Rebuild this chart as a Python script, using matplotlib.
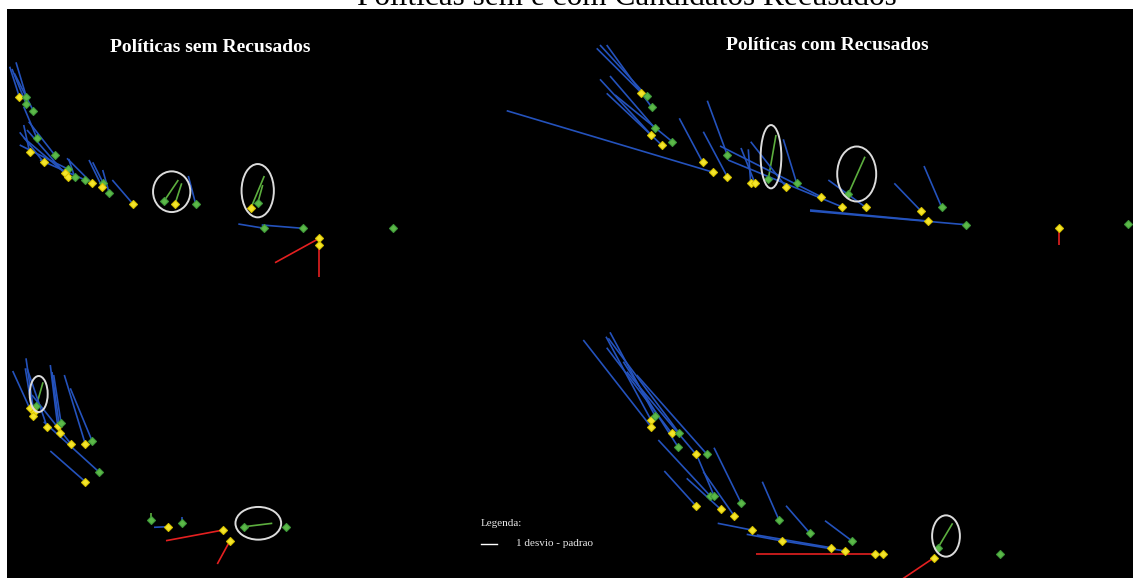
import numpy as np
import matplotlib.pyplot as plt
from matplotlib.patches import Ellipse, Rectangle

nan = np.nan

# each policy: point (x, y), group (Y = yellow, G = green),
# end of its 1-std-dev segment (dx, dy) and the segment colour (b/g/r, "" = none)

# Políticas sem Recusados (top left)
tl_x = [12.3, 19.3, 19.3, 26.3, 29.7, 22.7, 47.7, 36.7, 60.7, 58.3, 60.7, 67.7, 78.3, 85.0,
        96.0, 95.0, 102.3, 126.0, 157.3, 168.0, 188.7, 244.0, 250.7, 257.3, 295.7, 312.3, 312.3, 385.7]
tl_y = [203.3, 203.3, 196.0, 189.3, 162.3, 147.7, 145.0, 137.7, 131.0, 126.7, 123.3, 123.0, 120.0, 116.7,
        117.3, 113.3, 106.7, 96.0, 99.3, 96.0, 96.0, 92.3, 96.7, 71.7, 71.7, 61.7, 54.7, 71.7]
tl_grp = list("YGGGGYGYGYYGGYGYGYGYGYGGGYYG")
tl_dx = [2.7, 9.0, 5.0, 7.3, 16.7, 16.7, 21.7, 12.7, 12.7, 17.0, 20.0, 61.7, 33.0, 60.0,
         85.7, 82.0, 95.7, 105.3, 171.3, 174.7, 181.3, 257.3, 255.7, 231.3, 254.7, 268.0, 312.3, nan]
tl_dy = [233.3, 237.7, 231.0, 226.7, 193.3, 175.0, 178.3, 167.7, 155.0, 162.0, 170.0, 141.0, 140.0, 141.7,
         137.7, 140.0, 130.0, 120.0, 120.0, 116.7, 124.0, 124.0, 115.0, 76.0, 75.0, 37.3, 23.3, nan]
tl_dcor = list("bbbbbbbbbbbbbbbbbbggbggbbrr") + [""]
tl_elx = [164.7, 250.7]
tl_ely = [108.3, 109.3]
tl_elw = [37.3, 32.3]
tl_elh = [40.7, 53.3]

# Políticas com Recusados (top right)
tr_x = [141.3, 146.7, 151.7, 155.0, 151.3, 161.7, 172.3, 202.7, 227.3, 213.3, 227.3, 250.7, 255.0,
        268.3, 286.0, 296.7, 321.0, 348.3, 341.7, 365.7, 420.7, 441.7, 427.7, 465.7, 558.5, 628.0]
tr_y = [207.3, 204.0, 192.7, 171.7, 165.0, 155.0, 158.3, 137.7, 145.0, 127.7, 123.3, 116.7, 116.7,
        120.7, 113.3, 116.7, 103.3, 106.0, 93.3, 92.7, 89.3, 92.7, 79.0, 75.3, 72.0, 75.7]
tr_grp = list("YGGGYYGYGYYYYGYGYGYYYGYGYG")
tr_dx = [96.7, 100.0, 106.7, 110.0, 100.0, 106.7, 115.0, 179.3, 207.3, 6.7, 203.3, 248.3, 241.0,
         276.0, 250.7, 283.3, 220.0, 365.0, 228.0, 328.3, 394.3, 424.0, 310.0, 310.0, 558.5, nan]
tr_dy = [251.7, 255.0, 255.0, 224.0, 220.7, 206.7, 205.0, 181.7, 199.3, 189.3, 168.3, 150.7, 152.0,
         165.0, 158.3, 160.7, 154.0, 143.3, 140.0, 120.0, 116.7, 134.0, 90.0, 89.0, 55.0, nan]
tr_dcor = list("bbbbbbbbbbbbbgbbbgbbbbbbr") + [""]
tr_elx = [271.0, 356.7]
tr_ely = [143.3, 126.0]
tr_elw = [20.7, 39.0]
tr_elh = [63.3, 55.0]

# bottom left
bl_x = [29.3, 22.7, 26.7, 26.0, 40.0, 50.7, 54.0, 53.3, 64.0, 78.3, 85.0, 91.7, 78.3,
        143.7, 161.3, 174.7, 216.3, 223.0, 237.3, 278.7]
bl_y = [172.0, 169.7, 166.3, 162.3, 151.3, 152.0, 155.3, 144.7, 134.0, 134.0, 137.3, 106.3, 96.3,
        58.0, 51.3, 54.7, 48.0, 37.3, 51.3, 51.3]
bl_grp = list("GYYYYYGYYYGGYGYGYYGG")
bl_dx = [36.0, 5.7, 19.0, 18.3, 20.0, 43.3, 46.7, 45.0, 25.0, 57.3, 63.3, 36.7, 43.3,
         143.7, 147.0, 174.7, 159.0, 210.3, 265.3, nan]
bl_dy = [195.7, 207.0, 219.7, 209.7, 209.7, 213.0, 203.0, 206.0, 183.0, 203.0, 189.7, 156.3, 127.0,
         64.7, 50.7, 61.3, 37.3, 14.0, 54.7, nan]
bl_dcor = list("gbbbbbbbbbbbbgbbrrg") + [""]
bl_elx = [31.7, 251.3]
bl_ely = [184.0, 54.7]
bl_elw = [18.0, 45.7]
bl_elh = [36.0, 32.7]

# bottom right
br_x = [151.0, 155.0, 151.0, 171.7, 179.3, 178.3, 196.0, 206.7, 210.0, 214.0, 241.0, 196.0, 220.7,
        234.3, 279.0, 251.7, 310.0, 282.3, 351.7, 331.0, 345.0, 375.3, 383.2, 438.0, 434.0, 500.3]
br_y = [158.0, 162.3, 151.3, 144.7, 144.7, 130.7, 123.7, 124.0, 82.3, 82.3, 75.3, 72.0, 68.7,
        62.0, 58.0, 48.0, 44.7, 37.0, 37.3, 30.3, 27.0, 23.7, 23.7, 30.3, 20.3, 23.7]
br_grp = list("YGYYGGYGGGGYYYGYGYGYYYYGYG")
br_dx = [106.0, 110.0, 83.3, 106.7, 108.3, 123.3, 126.7, 136.7, 158.3, 198.0, 214.0, 164.3, 186.7,
         203.3, 262.3, 217.7, 286.0, 246.7, 325.0, 256.7, 283.3, 256.0, nan, 452.6, 398.0, nan]
br_dy = [241.3, 245.7, 238.0, 230.3, 239.7, 216.3, 206.3, 203.0, 138.0, 120.0, 130.3, 107.0, 99.7,
         106.3, 96.3, 54.7, 72.3, 43.7, 57.3, 43.0, 37.0, 23.7, nan, 54.7, -4.0, nan]
br_dcor = list("bbbbbbbbbbbbbbbbbbbbbr") + ["", "g", "r", ""]
br_elx = [446.0]
br_ely = [42.0]
br_elw = [27.8]
br_elh = [41.3]

FIG_W, FIG_H = 1133, 578
YELLOW, YELLOW_EDGE = "#f4e52c", "#d9c400"
GREEN, GREEN_EDGE = "#5cb848", "#3f9a3a"
SEG = {"b": "#2452bc", "g": "#5cae3e", "r": "#e42020"}

fig = plt.figure(figsize=(FIG_W / 100, FIG_H / 100), dpi=100)
fig.patch.set_facecolor("white")

# black drawing area under the title
fig.add_artist(Rectangle((7 / FIG_W, 0), (FIG_W - 7) / FIG_W, (FIG_H - 9) / FIG_H,
                         transform=fig.transFigure, facecolor="black", edgecolor="none", zorder=0))

fig.text(627 / FIG_W, 1 - 5 / FIG_H, "Políticas sem e com Candidatos Recusados",
         ha="center", va="baseline", family="Liberation Serif", fontsize=22.5, color="black")


def panel(left, top, right, bottom):
    ax = fig.add_axes([left / FIG_W, 1 - bottom / FIG_H, (right - left) / FIG_W, (bottom - top) / FIG_H])
    ax.set_xlim(0, right - left)
    ax.set_ylim(0, bottom - top)
    ax.set_axis_off()
    return ax


def draw(ax, x, y, grp, dx, dy, dcor, elx, ely, elw, elh):
    for i in range(len(x)):
        if dcor[i]:
            ax.plot([x[i], dx[i]], [y[i], dy[i]], color=SEG[dcor[i]], lw=1.2,
                    solid_capstyle="butt", zorder=1, clip_on=False)
    for i in range(len(x)):
        if grp[i] == "Y":
            fc, ec = YELLOW, YELLOW_EDGE
        else:
            fc, ec = GREEN, GREEN_EDGE
        ax.plot(x[i], y[i], marker="D", ms=4.5, mfc=fc, mec=ec, mew=0.8, zorder=3, clip_on=False)
    for cx, cy, w, h in zip(elx, ely, elw, elh):
        ax.add_patch(Ellipse((cx, cy), w, h, fill=False, edgecolor="#dcdcdc", lw=1.4, zorder=4))


ax_tl = panel(7, 9, 500, 300)
ax_tr = panel(500, 9, 1133, 300)
ax_bl = panel(7, 300, 500, 578)
ax_br = panel(500, 300, 1133, 578)

draw(ax_tl, tl_x, tl_y, tl_grp, tl_dx, tl_dy, tl_dcor, tl_elx, tl_ely, tl_elw, tl_elh)
draw(ax_tr, tr_x, tr_y, tr_grp, tr_dx, tr_dy, tr_dcor, tr_elx, tr_ely, tr_elw, tr_elh)
draw(ax_bl, bl_x, bl_y, bl_grp, bl_dx, bl_dy, bl_dcor, bl_elx, bl_ely, bl_elw, bl_elh)
draw(ax_br, br_x, br_y, br_grp, br_dx, br_dy, br_dcor, br_elx, br_ely, br_elw, br_elh)

fig.text(210 / FIG_W, 1 - 52 / FIG_H, "Políticas sem Recusados", ha="center", va="baseline",
         family="Liberation Serif", fontweight="bold", fontsize=14, color="white")
fig.text(827 / FIG_W, 1 - 49.5 / FIG_H, "Políticas com Recusados", ha="center", va="baseline",
         family="Liberation Serif", fontweight="bold", fontsize=14, color="white")

# legend
fig.text(481 / FIG_W, 1 - 524 / FIG_H, "Legenda:", ha="left", va="center",
         family="Liberation Serif", fontsize=8, color="#e8e8e8")
fig.add_artist(plt.Line2D([481 / FIG_W, 497 / FIG_W], [1 - 544 / FIG_H, 1 - 544 / FIG_H],
                          transform=fig.transFigure, color="white", lw=1.0))
fig.text(516 / FIG_W, 1 - 543 / FIG_H, "1 desvio - padrao", ha="left", va="center",
         family="Liberation Serif", fontsize=8, color="#e8e8e8")

fig.savefig("out.png", dpi=100, facecolor=fig.get_facecolor())
